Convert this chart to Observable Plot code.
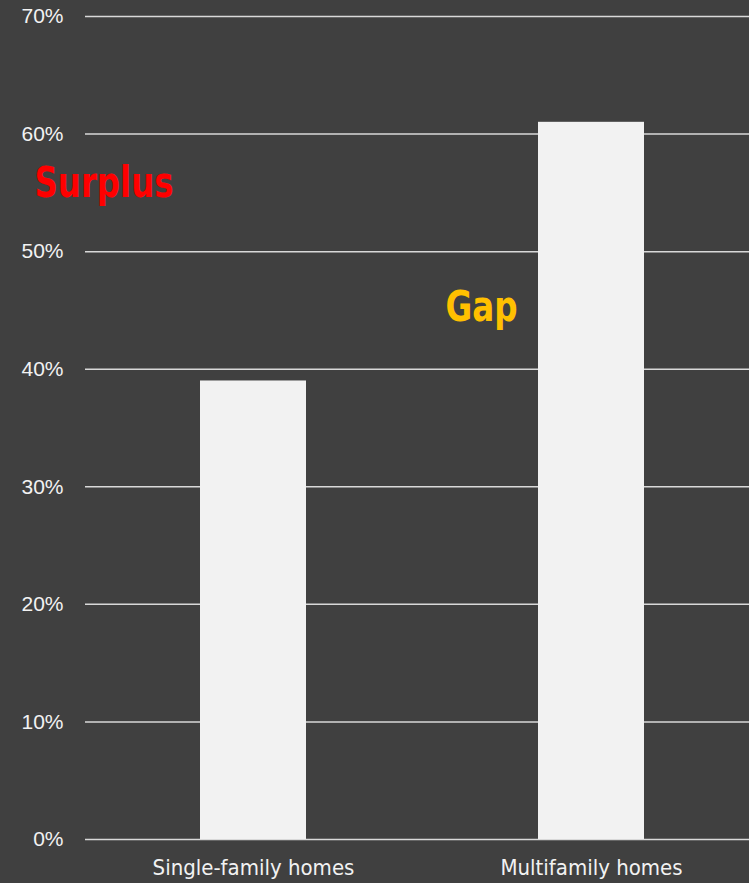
<!DOCTYPE html>
<html><head><meta charset="utf-8">
<script src="https://cdn.jsdelivr.net/npm/d3@7"></script>
<script src="https://cdn.jsdelivr.net/npm/@observablehq/plot@0.6"></script>
<style>
html,body{margin:0;padding:0;background:#404040;overflow:hidden;width:749px;height:883px}
#chart svg{display:block;overflow:hidden}
</style>
</head><body><div id="chart"></div>
<script>
const categories = ["Single-family homes", "Multifamily homes"];
const shares = [0.39, 0.61];
const yTicks = [0, 0.1, 0.2, 0.3, 0.4, 0.5, 0.6, 0.7];
const annotationLabels = ["Surplus", "Gap"];
const annotationCategories = ["Single-family homes", "Multifamily homes"];
const annotationValues = [0.558, 0.453];
const annotationColors = ["#ff0000", "#ffc000"];

const data = categories.map((c, i) => ({category: c, share: shares[i]}));
const notes = annotationLabels.map((l, i) => ({label: l, category: annotationCategories[i], value: annotationValues[i], color: annotationColors[i]}));

const condensed = "'Liberation Sans Narrow', 'DejaVu Sans Condensed', 'Roboto Condensed', sans-serif";

const chart = Plot.plot({
  width: 749,
  height: 883,
  marginLeft: 85,
  marginRight: -10,
  marginTop: 16,
  marginBottom: 44,
  style: {background: "#404040", color: "#f2f2f2", fontFamily: "'Liberation Sans', Arial, sans-serif"},
  x: {domain: categories, paddingInner: 0.686, paddingOuter: 0.34, label: null},
  y: {domain: [0, 0.7], label: null},
  marks: [
    Plot.ruleY(yTicks, {stroke: "#d9d9d9", strokeWidth: 1.5, strokeOpacity: 1}),
    Plot.barY(data, {x: "category", y: "share", fill: "#f2f2f2"}),
    Plot.axisY(yTicks, {tickSize: 0, tickPadding: 22, tickFormat: d3.format(".0%"), fontSize: 21, fill: "#f2f2f2", label: null}),
    Plot.axisX({tickSize: 0, tickPadding: 20, fontSize: 22, fontFamily: condensed, fill: "#f2f2f2", label: null}),
    Plot.text(notes.slice(0, 1), {x: "category", y: "value", text: "label", fill: "color", textAnchor: "start", dx: -219, fontSize: 43, fontWeight: "bold", fontFamily: condensed, className: "note-surplus"}),
    Plot.text(notes.slice(1, 2), {x: "category", y: "value", text: "label", fill: "color", textAnchor: "start", dx: -146, fontSize: 43, fontWeight: "bold", fontFamily: condensed, className: "note-gap"})
  ]
});
d3.select(chart).selectAll(".note-surplus text").attr("textLength", 139).attr("lengthAdjust", "spacingAndGlyphs");
d3.select(chart).selectAll(".note-gap text").attr("textLength", 72).attr("lengthAdjust", "spacingAndGlyphs");
document.getElementById("chart").append(chart);
</script>
</body></html>
